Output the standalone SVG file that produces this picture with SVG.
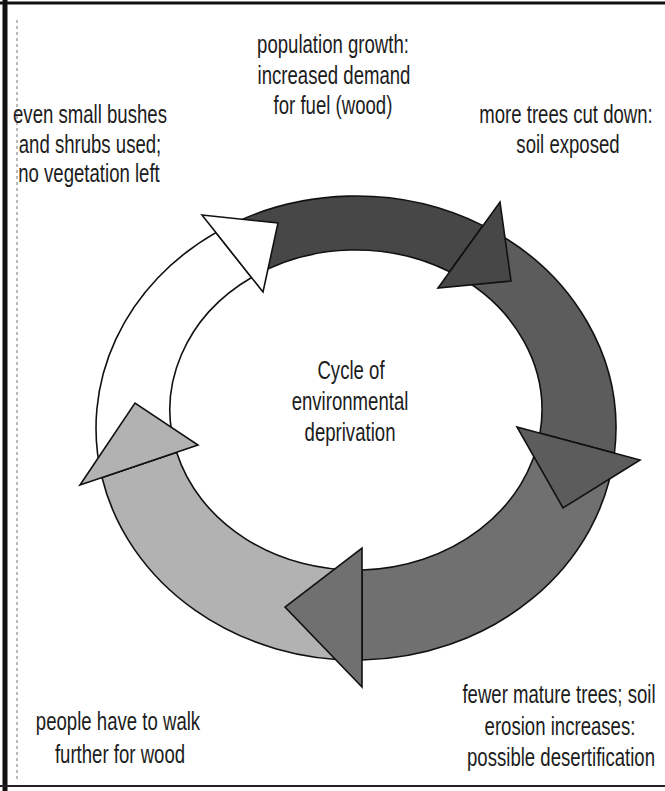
<svg xmlns="http://www.w3.org/2000/svg" width="665" height="791" viewBox="0 0 665 791">
  <style>
    .lbl { font-family: "Liberation Sans", Arial, sans-serif; font-size: 25px; fill: #1c1c1c; text-anchor: middle; }
    .seg { stroke: #111; stroke-width: 1.6; stroke-linejoin: miter; }
    .a1 { fill: #474747; }
    .a2 { fill: #5c5c5c; }
    .a3 { fill: #707070; }
    .a4 { fill: #b2b2b2; }
    .a5 { fill: #ffffff; }
  </style>
  <rect x="0" y="0" width="665" height="791" fill="#ffffff"/>
  <g id="frame">
    <line x1="0" y1="3" x2="665" y2="3" stroke="#111" stroke-width="3"/>
    <line x1="5" y1="0" x2="5" y2="791" stroke="#111" stroke-width="5"/>
    <line x1="17" y1="20" x2="17" y2="780" stroke="#777" stroke-width="1" stroke-dasharray="3 3"/>
    <line x1="0" y1="786" x2="665" y2="786" stroke="#222" stroke-width="2"/>
  </g>
  <g id="connectors">
    <path class="seg a1" d="M 215.9 232.6 A 260 232 0 0 1 483 225.6 L 449.7 271.8 A 186 160 0 0 0 251.6 277.5 Z"/>
    <path class="seg a2" d="M 483 225.6 A 260 232 0 0 1 614.4 453.2 L 540 433.2 A 186 160 0 0 0 449.7 271.8 Z"/>
    <path class="seg a3" d="M 614.4 453.2 A 260 232 0 0 1 362 660 L 362 570 A 186 160 0 0 0 540 433.2 Z"/>
    <path class="seg a4" d="M 362 660 A 260 232 0 0 1 102 477.5 L 176.6 452.3 A 186 160 0 0 0 362 570 Z"/>
    <path class="seg a5" d="M 102 477.5 A 260 232 0 0 1 215.9 232.6 L 251.6 277.5 A 186 160 0 0 0 176.6 452.3 Z"/>
    <polygon class="seg a1" points="500,202 511,281 438,288"/>
    <polygon class="seg a2" points="640,460 563,508 517,427"/>
    <polygon class="seg a3" points="362,687 285,607 362,548"/>
    <polygon class="seg a4" points="80,485 135,403 198,445"/>
    <polygon class="seg a5" points="202,215 278,223 263,292"/>
  </g>
  <g id="node-population">
    <text class="lbl" transform="translate(333,53) scale(0.744,1)">population growth:</text>
    <text class="lbl" transform="translate(334,84) scale(0.744,1)">increased demand</text>
    <text class="lbl" transform="translate(333,114) scale(0.744,1)">for fuel (wood)</text>
  </g>
  <g id="node-trees-cut">
    <text class="lbl" transform="translate(566,123) scale(0.744,1)">more trees cut down:</text>
    <text class="lbl" transform="translate(568,153) scale(0.744,1)">soil exposed</text>
  </g>
  <g id="node-erosion">
    <text class="lbl" transform="translate(559,703) scale(0.744,1)">fewer mature trees; soil</text>
    <text class="lbl" transform="translate(560,735) scale(0.744,1)">erosion increases:</text>
    <text class="lbl" transform="translate(561,766) scale(0.744,1)">possible desertification</text>
  </g>
  <g id="node-walk">
    <text class="lbl" transform="translate(118,730) scale(0.744,1)">people have to walk</text>
    <text class="lbl" transform="translate(120,763) scale(0.744,1)">further for wood</text>
  </g>
  <g id="node-bushes">
    <text class="lbl" transform="translate(90,123) scale(0.744,1)">even small bushes</text>
    <text class="lbl" transform="translate(90,153) scale(0.744,1)">and shrubs used;</text>
    <text class="lbl" transform="translate(89,182) scale(0.744,1)">no vegetation left</text>
  </g>
  <g id="node-center">
    <text class="lbl" transform="translate(351,379) scale(0.744,1)">Cycle of</text>
    <text class="lbl" transform="translate(350,410) scale(0.744,1)">environmental</text>
    <text class="lbl" transform="translate(350,441) scale(0.744,1)">deprivation</text>
  </g>
</svg>
